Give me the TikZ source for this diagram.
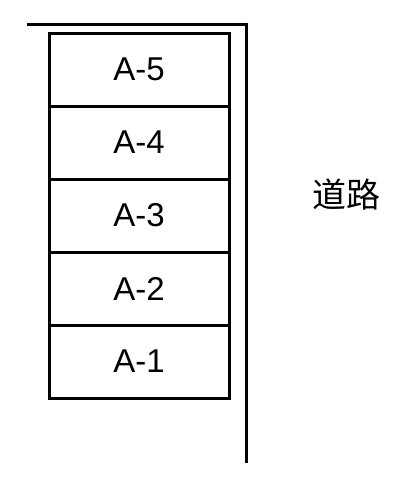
\documentclass[tikz,border=0pt]{standalone}
\usepackage{fontspec}
\setmainfont{Liberation Sans}
\newfontfamily\cjk{Noto Sans CJK SC}
\begin{document}
\begin{tikzpicture}[x=1pt,y=-1pt,
  lot/.style={draw=black,line width=3pt,minimum width=180pt,minimum height=73pt,inner sep=0pt,outer sep=0pt,font=\fontsize{33}{33}\selectfont},
  wall/.style={draw=black,line width=3pt}]
\useasboundingbox (0,0) rectangle (418,496);
\node[lot] (a5) at (139,69.5) {A-5};
\node[lot] (a4) at (139,142.5) {A-4};
\node[lot] (a3) at (139,215.5) {A-3};
\node[lot] (a2) at (139,288.5) {A-2};
\node[lot] (a1) at (139,361.5) {A-1};
\coordinate (w1) at (27,24);
\coordinate (w2) at (247.5,24);
\coordinate (w2t) at (246,22.5);
\coordinate (w3) at (246,463);
\draw[wall] (w1) -- (w2);
\draw[wall] (w2t) -- (w3);
\node[font=\cjk\fontsize{34}{34}\selectfont] (road) at (346,194) {道路};
\end{tikzpicture}
\end{document}
